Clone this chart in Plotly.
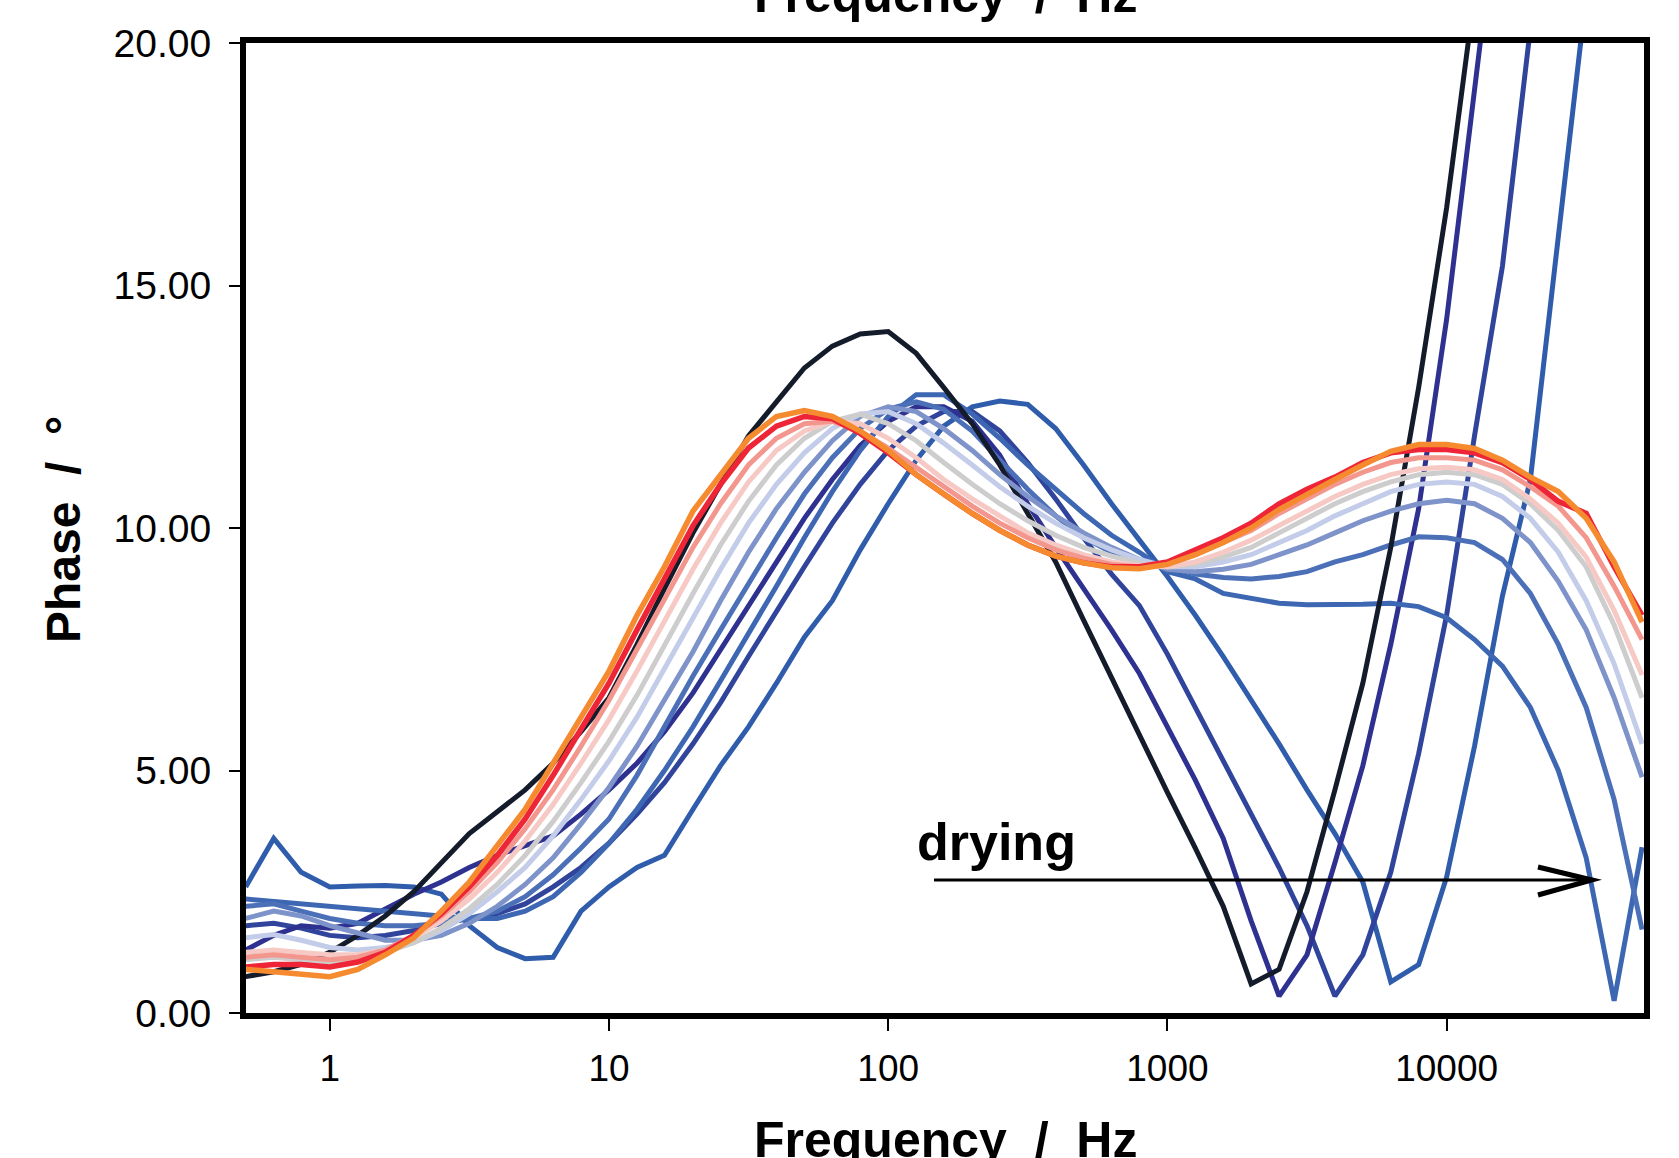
import plotly.graph_objects as go

# ---------------- data ----------------
freq_hz = [0.5, 0.63, 0.79, 1.0, 1.26, 1.58, 2.0, 2.51, 3.16, 3.98,
           5.01, 6.31, 7.94, 10.0, 12.6, 15.8, 20.0, 25.1, 31.6, 39.8,
           50.1, 63.1, 79.4, 100, 126, 158, 200, 251, 316, 398,
           501, 631, 794, 1000, 1259, 1585, 1995, 2512, 3162, 3981,
           5012, 6310, 7943, 10000, 12589, 15849, 19953, 25119, 31623, 39811,
           50119]

phase_c1 = [0.75, 0.85, 1.00, 1.25, 1.60, 2.00, 2.50, 3.10, 3.70, 4.15,
            4.60, 5.15, 5.80, 6.50, 7.60, 8.75, 9.90, 10.90, 11.90, 12.60,
            13.30, 13.75, 14.00, 14.05, 13.60, 12.90, 12.15, 11.30, 10.30, 9.30,
            8.10, 6.90, 5.75, 4.55, 3.40, 2.20, 0.60, 0.90, 2.50, 4.60,
            6.80, 9.60, 12.90, 16.60, 21.00, 26.00, 31.00, 36.00, 41.00, 46.00,
            51.00]
phase_c2 = [1.30, 1.60, 1.80, 1.75, 1.85, 2.15, 2.45, 2.70, 3.00, 3.25,
            3.45, 3.65, 4.10, 4.60, 5.15, 5.80, 6.60, 7.50, 8.40, 9.30,
            10.20, 11.00, 11.70, 12.20, 12.50, 12.50, 12.20, 11.50, 10.50, 9.60,
            8.75, 7.90, 7.00, 5.90, 4.80, 3.60, 1.90, 0.35, 1.20, 3.10,
            5.10, 7.60, 10.40, 14.30, 18.70, 23.50, 28.50, 33.50, 38.50, 43.50,
            48.50]
phase_c3 = [1.80, 1.85, 1.75, 1.60, 1.55, 1.60, 1.70, 1.85, 1.95, 2.05,
            2.25, 2.60, 3.00, 3.50, 4.10, 4.75, 5.55, 6.40, 7.35, 8.30,
            9.20, 10.10, 10.90, 11.60, 12.10, 12.40, 12.40, 12.00, 11.35, 10.60,
            9.80, 9.05, 8.40, 7.40, 6.30, 5.20, 4.10, 3.00, 1.80, 0.35,
            1.20, 2.90, 5.35, 8.20, 11.90, 15.40, 20.30, 25.50, 30.50, 35.50,
            40.50]
phase_c4 = [2.60, 3.60, 2.90, 2.60, 2.62, 2.63, 2.60, 2.45, 1.80, 1.35,
            1.12, 1.15, 2.10, 2.60, 3.00, 3.25, 4.20, 5.10, 5.90, 6.80,
            7.75, 8.50, 9.55, 10.50, 11.40, 12.10, 12.50, 12.62, 12.55, 12.05,
            11.30, 10.50, 9.75, 9.00, 8.20, 7.35, 6.45, 5.55, 4.60, 3.70,
            2.70, 0.64, 1.00, 2.80, 5.50, 8.60, 11.00, 16.00, 21.00, 26.00,
            31.00]
phase_c6 = [2.35, 2.30, 2.25, 2.20, 2.15, 2.10, 2.05, 2.00, 1.95, 1.95,
            2.10, 2.40, 2.90, 3.50, 4.20, 5.00, 5.90, 6.85, 7.80, 8.80,
            9.80, 10.75, 11.60, 12.30, 12.75, 12.75, 12.35, 11.85, 11.30, 10.80,
            10.30, 9.85, 9.50, 9.10, 8.95, 8.65, 8.55, 8.45, 8.42, 8.42,
            8.43, 8.45, 8.38, 8.15, 7.70, 7.15, 6.30, 5.00, 3.20, 0.25,
            3.42]
phase_c7 = [2.20, 2.25, 2.10, 1.95, 1.85, 1.80, 1.80, 1.85, 1.95, 2.10,
            2.40, 2.85, 3.40, 4.00, 4.90, 5.90, 6.95, 7.90, 8.85, 9.80,
            10.70, 11.45, 12.05, 12.45, 12.60, 12.45, 12.00, 11.40, 10.80, 10.25,
            9.80, 9.50, 9.30, 9.20, 9.05, 8.98, 8.95, 9.00, 9.10, 9.30,
            9.45, 9.65, 9.82, 9.80, 9.70, 9.35, 8.65, 7.60, 6.30, 4.40,
            1.72]
phase_c8 = [1.95, 2.10, 2.00, 1.80, 1.65, 1.50, 1.50, 1.60, 1.85, 2.20,
            2.65, 3.20, 3.90, 4.65, 5.50, 6.45, 7.45, 8.50, 9.50, 10.40,
            11.15, 11.80, 12.30, 12.50, 12.40, 12.05, 11.60, 11.10, 10.65, 10.25,
            9.90, 9.60, 9.35, 9.15, 9.10, 9.15, 9.25, 9.45, 9.65, 9.90,
            10.15, 10.35, 10.50, 10.57, 10.50, 10.20, 9.70, 8.90, 7.90, 6.50,
            4.86]
phase_c9 = [1.55, 1.62, 1.50, 1.35, 1.30, 1.35, 1.45, 1.70, 2.05, 2.50,
            3.00, 3.65, 4.40, 5.20, 6.10, 7.10, 8.10, 9.15, 10.10, 10.90,
            11.55, 12.05, 12.35, 12.40, 12.15, 11.75, 11.30, 10.85, 10.45, 10.10,
            9.80, 9.55, 9.35, 9.20, 9.20, 9.30, 9.45, 9.70, 9.95, 10.25,
            10.50, 10.75, 10.90, 10.95, 10.90, 10.65, 10.20, 9.50, 8.50, 7.20,
            5.55]
phase_c10 = [1.10, 1.15, 1.10, 1.05, 1.10, 1.25, 1.45, 1.75, 2.15, 2.65,
             3.25, 3.95, 4.75, 5.60, 6.55, 7.60, 8.65, 9.65, 10.55, 11.30,
             11.85, 12.20, 12.35, 12.15, 11.80, 11.35, 10.90, 10.50, 10.15, 9.85,
             9.60, 9.42, 9.28, 9.20, 9.25, 9.40, 9.60, 9.90, 10.20, 10.50,
             10.75, 10.95, 11.10, 11.15, 11.10, 10.90, 10.50, 9.95, 9.20, 8.00,
             6.50]
phase_c11 = [1.25, 1.30, 1.25, 1.20, 1.20, 1.30, 1.55, 1.90, 2.35, 2.90,
             3.55, 4.30, 5.15, 6.05, 7.05, 8.10, 9.15, 10.10, 10.95, 11.60,
             12.00, 12.20, 12.15, 11.85, 11.45, 11.00, 10.60, 10.25, 9.90, 9.65,
             9.45, 9.30, 9.22, 9.20, 9.30, 9.50, 9.75, 10.05, 10.35, 10.65,
             10.90, 11.10, 11.22, 11.25, 11.20, 11.00, 10.60, 10.10, 9.40, 8.30,
             6.97]
phase_c12 = [1.15, 1.20, 1.15, 1.10, 1.15, 1.30, 1.60, 2.00, 2.50, 3.10,
             3.80, 4.60, 5.50, 6.45, 7.50, 8.55, 9.60, 10.50, 11.30, 11.85,
             12.15, 12.20, 12.00, 11.65, 11.25, 10.85, 10.45, 10.10, 9.80, 9.55,
             9.38, 9.25, 9.20, 9.25, 9.45, 9.70, 9.95, 10.30, 10.60, 10.90,
             11.15, 11.35, 11.45, 11.45, 11.40, 11.20, 10.85, 10.45, 9.80, 8.80,
             7.70]
phase_c13 = [0.95, 1.00, 1.00, 0.95, 1.05, 1.25, 1.60, 2.05, 2.60, 3.25,
             4.00, 4.90, 5.85, 6.80, 7.90, 8.95, 10.05, 10.90, 11.65, 12.10,
             12.30, 12.25, 11.95, 11.55, 11.10, 10.70, 10.30, 9.95, 9.65, 9.42,
             9.28, 9.20, 9.20, 9.30, 9.55, 9.80, 10.10, 10.50, 10.80, 11.05,
             11.35, 11.55, 11.62, 11.62, 11.55, 11.35, 11.00, 10.55, 10.30, 9.20,
             8.20]
phase_c14 = [0.90, 0.85, 0.80, 0.75, 0.90, 1.20, 1.55, 2.10, 2.70, 3.45,
             4.20, 5.15, 6.10, 7.05, 8.20, 9.20, 10.35, 11.10, 11.85, 12.30,
             12.42, 12.30, 12.00, 11.60, 11.10, 10.70, 10.30, 9.95, 9.65, 9.42,
             9.28, 9.18, 9.16, 9.25, 9.45, 9.70, 10.00, 10.38, 10.70, 11.00,
             11.30, 11.58, 11.72, 11.72, 11.64, 11.40, 11.05, 10.75, 10.20, 9.30,
             8.06]

x_tick_vals = [1, 10, 100, 1000, 10000]
x_tick_text = ["1", "10", "100", "1000", "10000"]
y_tick_vals = [0, 5, 10, 15, 20]
y_tick_text = ["0.00", "5.00", "10.00", "15.00", "20.00"]

# draw order: bottom -> top
series = [
    ("c4", phase_c4, "#2f5cab", 5),
    ("c3", phase_c3, "#30449b", 5),
    ("c2", phase_c2, "#2e3190", 5),
    ("c6", phase_c6, "#3e67b3", 5),
    ("c7", phase_c7, "#4b70b8", 5),
    ("c1", phase_c1, "#141b2b", 5),
    ("c8", phase_c8, "#7e93ca", 5),
    ("c9", phase_c9, "#c3cce8", 5),
    ("c10", phase_c10, "#cdcdcd", 5),
    ("c11", phase_c11, "#f6c9c5", 5),
    ("c12", phase_c12, "#f3968d", 5),
    ("c13", phase_c13, "#ee2536", 5.5),
    ("c14", phase_c14, "#f58a2f", 5.5),
]

W, H = 1679, 1158
L, R, T, B = 246, 35, 43, 145
font_family = "Liberation Sans, Arial, sans-serif"

fig = go.Figure()
for name, vals, color, width in series:
    fig.add_trace(go.Scatter(x=freq_hz, y=vals, mode="lines", name=name,
                             line=dict(color=color, width=width),
                             hoverinfo="skip", showlegend=False))

fig.update_layout(
    width=W, height=H,
    margin=dict(l=L, r=R, t=T, b=B, pad=0),
    paper_bgcolor="white", plot_bgcolor="white",
    font=dict(family=font_family, color="black"),
    showlegend=False,
)
fig.update_xaxes(
    type="log", range=[-0.300, 4.707],
    tickvals=x_tick_vals, ticktext=x_tick_text,
    ticks="outside", ticklen=12, tickwidth=2, tickcolor="black",
    tickfont=dict(size=37, family=font_family, color="black"),
    ticklabelstandoff=6,
    showline=True, linewidth=6, linecolor="black", mirror=True,
    showgrid=False, zeroline=False, automargin=False,
)
fig.update_yaxes(
    range=[0, 20],
    tickvals=y_tick_vals, ticktext=y_tick_text,
    ticks="outside", ticklen=11, tickwidth=2, tickcolor="black",
    tickfont=dict(size=39, family=font_family, color="black"),
    ticklabelstandoff=10,
    showline=True, linewidth=6, linecolor="black", mirror=True,
    showgrid=False, zeroline=False, automargin=False,
)

plot_w = W - L - R
plot_h = H - T - B

def px(xp):
    return (xp - L) / plot_w

def py(yp):
    return (H - B - yp) / plot_h

title_text = "Frequency\u00a0\u00a0/\u00a0\u00a0Hz"
annos = [
    dict(text=title_text, x=px(945), y=py(-5), xref="paper", yref="paper",
         xanchor="center", yanchor="middle", showarrow=False,
         font=dict(size=50, family=font_family, color="black", weight="bold")),
    dict(text=title_text, x=px(945), y=py(1140), xref="paper", yref="paper",
         xanchor="center", yanchor="middle", showarrow=False,
         font=dict(size=50, family=font_family, color="black", weight="bold")),
    dict(text="Phase\u00a0\u00a0/\u00a0\u00a0°", x=px(63), y=py(530), xref="paper", yref="paper",
         xanchor="center", yanchor="middle", showarrow=False, textangle=-90,
         font=dict(size=48, family=font_family, color="black", weight="bold")),
    dict(text="drying", x=px(915), y=py(842), xref="paper", yref="paper",
         xanchor="left", yanchor="middle", showarrow=False,
         font=dict(size=52, family=font_family, color="black", weight="bold")),
]
fig.update_layout(annotations=annos)

# drying arrow (open chevron head)
ay = py(880)
fig.add_shape(type="line", xref="paper", yref="paper",
              x0=px(934), y0=ay, x1=px(1590), y1=ay,
              line=dict(color="black", width=3))
fig.add_shape(type="path", xref="paper", yref="paper",
              path=f"M {px(1538)},{py(867)} L {px(1592)},{ay} L {px(1538)},{py(895)}",
              line=dict(color="black", width=5))

fig.write_html("out.html", config={"displayModeBar": False},
               post_script="document.body.style.margin='0';document.body.style.overflow='hidden';")
